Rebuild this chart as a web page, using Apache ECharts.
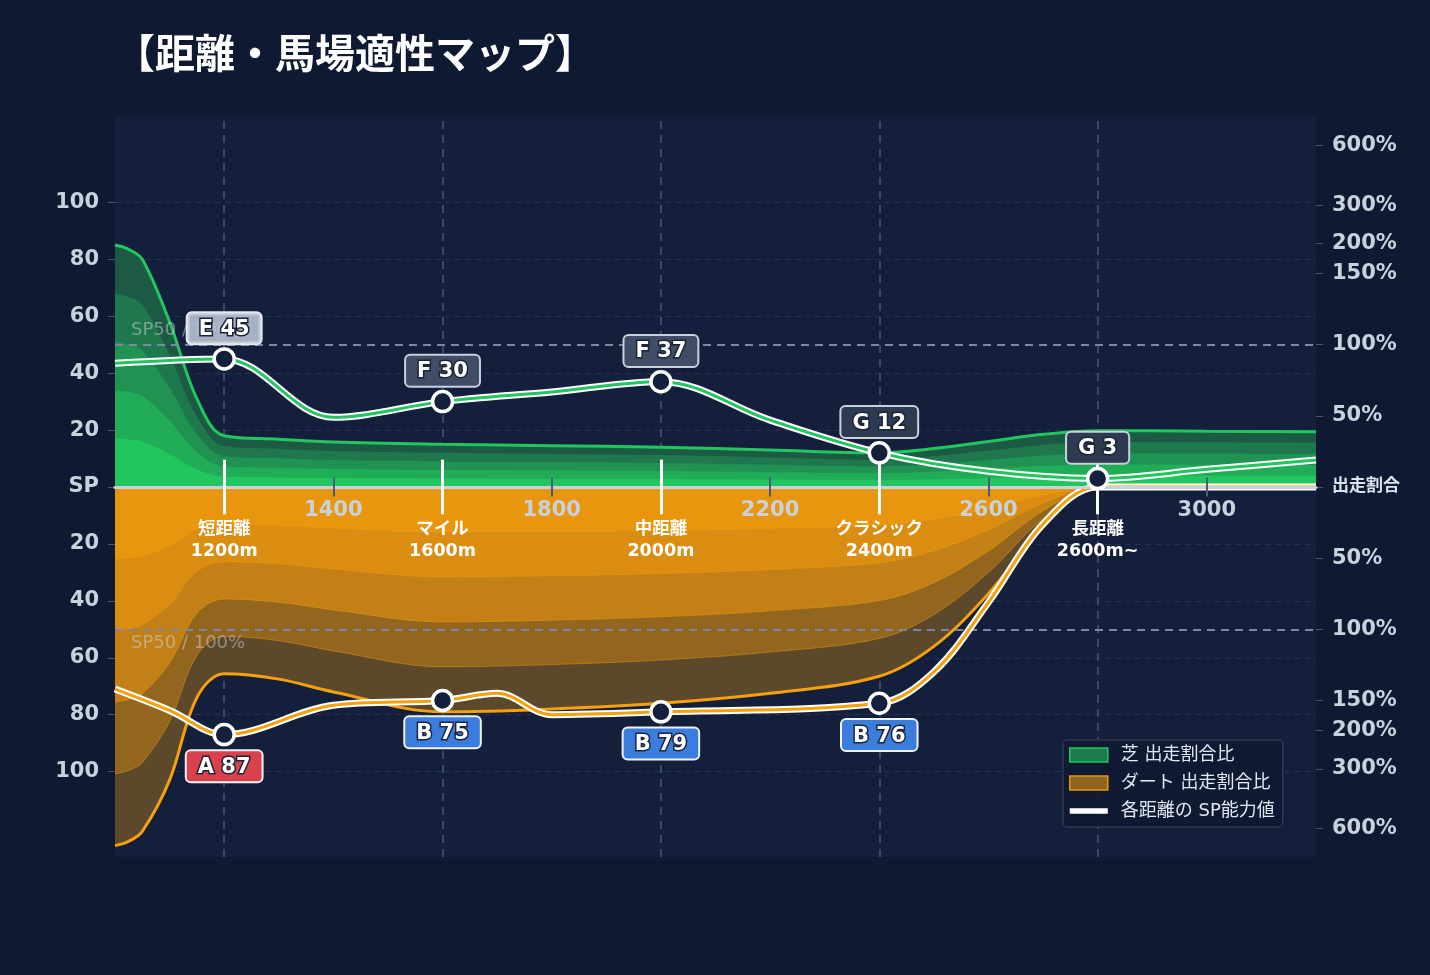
<!DOCTYPE html>
<html>
<head>
<meta charset="utf-8">
<title>距離・馬場適性マップ</title>
<script src="https://cdn.jsdelivr.net/npm/echarts@6/dist/echarts.min.js"></script>
<style>
html, body { margin: 0; padding: 0; background: #0f1a32; }
#main { width: 1430px; height: 975px; }
</style>
</head>
<body>
<div id="main"></div>
<script>
// 出走割合比（上：芝 / 下：ダート）
var shareDist = [1000, 1025, 1050, 1100, 1150, 1200, 1300, 1400, 1600, 1800, 2000, 2200, 2400, 2500, 2600, 2700, 2800, 3000, 3200];
var turfShare = [85, 83.5, 80, 58, 31, 18, 16.8, 15.8, 15, 14.5, 14, 13, 12, 13.5, 16, 18.5, 19.8, 19.6, 19.4];
var dirtShare = [126, 124.5, 121, 103, 74, 65.6, 67.5, 72, 79, 78, 76, 72.5, 66.5, 56, 37.5, 14, 0, 0, 0];
// SP能力値
var turfSpDist = [1000, 1200, 1400, 1600, 1800, 2000, 2200, 2400, 2600, 2800, 3000, 3200];
var turfSp = [43.5, 45, 24.5, 30, 33.4, 37, 23.5, 12, 5.5, 3, 6.2, 9.5];
var dirtSpDist = [1000, 1100, 1200, 1400, 1600, 1700, 1800, 2000, 2400, 2500, 2600, 2700, 2800, 3000, 3200];
var dirtSp = [71, 78.5, 87, 76.7, 75, 72.5, 80, 79, 76, 65, 40.5, 13, 0, 0, 0];

// 距離区分
var catDistances = [1200, 1600, 2000, 2400, 2800];
var catNames = ['短距離', 'マイル', '中距離', 'クラシック', '長距離'];
var catSubs = ['1200m', '1600m', '2000m', '2400m', '2600m~'];
var tickDistances = [1400, 1800, 2200, 2600, 3000];
var turfGrades = ['E', 'F', 'F', 'G', 'G'];
var dirtGrades = ['A', 'B', 'B', 'B'];

// 軸ラベル
var spTicks = [20, 40, 60, 80, 100];
var pctLabels = ['50%', '100%', '150%', '200%', '300%', '600%'];
var pctPos = [25, 50, 75, 85.5, 99, 120];

var FONT = 'DejaVu Sans, Noto Sans CJK JP, sans-serif';
var SMOOTH = 0.35;
var greenColors = ['#1c5a44', '#1e774d', '#209353', '#21ad58', '#22c55e'];
var orangeColors = ['#5c482b', '#93661f', '#c28016', '#da8d10', '#e8960e'];
var gradeBg = { A: '#d9414b', B: '#3b7ddd', E: 'rgba(188,198,214,0.88)', F: '#414d66', G: '#2e3a51' };
var gradeBorder = { A: '#eef2f7', B: '#eef2f7', E: '#e6ebf2', F: '#c9d1dd', G: '#c9d1dd' };

var myChart = echarts.init(document.getElementById('main'));

function layerData(share, k, sign) {
	return shareDist.map(function (d, i) { return [d, sign * share[i] * k / 5]; });
}
function lineData(xs, vals, sign) {
	return xs.map(function (d, i) { return [d, sign * vals[i]]; });
}
function pointData(xs, vals, grades, sign) {
	return grades.map(function (g, i) {
		var d = catDistances[i];
		var v = vals[xs.indexOf(d)];
		return {
			value: [d, sign * v],
			label: { formatter: g + ' ' + v, backgroundColor: gradeBg[g], borderColor: gradeBorder[g] }
		};
	});
}

var leftVals = [0];
spTicks.forEach(function (v) { leftVals.push(v, -v); });
var rightVals = [0];
pctPos.forEach(function (v) { rightVals.push(v, -v); });
var xLabelVals = catDistances.concat(tickDistances);

// 中心軸の目盛り
var tickLines = catDistances.map(function (d) {
	return [{ coord: [d, 9.6] }, { coord: [d, -9.6] }];
}).concat(tickDistances.map(function (d) {
	return [{ coord: [d, 3.3], lineStyle: { color: '#505b75', width: 2 } }, { coord: [d, -3.3] }];
}));

var series = [];
// 芝 出走割合比（外側から）
for (var j = 0; j < 5; j++) {
	var s = {
		name: j === 0 ? '芝 出走割合比' : 'turf' + j,
		type: 'line', smooth: SMOOTH, symbol: 'none', z: 2,
		data: layerData(turfShare, 5 - j, 1),
		lineStyle: j === 0 ? { color: '#22c55e', width: 3 } : { width: 0 },
		areaStyle: { color: greenColors[j], opacity: 1 },
		itemStyle: { color: greenColors[j] }
	};
	if (j === 0) {
		s.markLine = {
			silent: true, symbol: 'none', z: 1, animation: false,
			label: { show: false },
			lineStyle: { color: '#3a4966', width: 2, type: [8, 6] },
			data: catDistances.map(function (d) { return { xAxis: d }; })
		};
	}
	series.push(s);
}
// ダート 出走割合比（外側から）
for (var j2 = 0; j2 < 5; j2++) {
	var s2 = {
		name: j2 === 0 ? 'ダート 出走割合比' : 'dirt' + j2,
		type: 'line', smooth: SMOOTH, symbol: 'none', z: 2,
		data: layerData(dirtShare, 5 - j2, -1),
		lineStyle: j2 === 0 ? { color: '#f5a00c', width: 3 } : { color: 'rgba(245,160,12,0.45)', width: 1 },
		areaStyle: { color: orangeColors[j2], opacity: 1 },
		itemStyle: { color: orangeColors[j2] }
	};
	if (j2 === 0) {
		s2.markLine = {
			silent: true, symbol: 'none', z: 4, animation: false,
			lineStyle: { color: '#7d88a0', width: 2, type: [8, 6] },
			label: { show: true, color: 'rgba(205,213,226,0.5)', fontSize: 18, fontFamily: FONT, formatter: 'SP50 / 100%', distance: [16, 5] },
			data: [
				{ yAxis: 50, label: { position: 'insideStartTop' } },
				{ yAxis: -50, label: { position: 'insideStartBottom' } }
			]
		};
	}
	series.push(s2);
}
// SP能力値ライン（白フチ + 芯）
series.push({
	name: '各距離の SP能力値', type: 'line', smooth: SMOOTH, symbol: 'none', z: 6,
	data: lineData(turfSpDist, turfSp, 1),
	lineStyle: { color: '#ffffff', width: 7 },
	itemStyle: { color: '#ffffff' },
	markLine: {
		silent: true, symbol: 'none', z: 11, animation: false,
		label: { show: false },
		lineStyle: { color: '#ffffff', width: 3, type: 'solid' },
		data: tickLines
	}
});
series.push({
	name: 'turfSpCore', type: 'line', smooth: SMOOTH, symbol: 'none', z: 6,
	data: lineData(turfSpDist, turfSp, 1),
	lineStyle: { color: '#22c55e', width: 3 }
});
series.push({
	name: 'dirtSpOuter', type: 'line', smooth: SMOOTH, symbol: 'none', z: 6,
	data: lineData(dirtSpDist, dirtSp, -1),
	lineStyle: { color: '#ffffff', width: 7 }
});
series.push({
	name: 'dirtSpCore', type: 'line', smooth: SMOOTH, symbol: 'none', z: 6,
	data: lineData(dirtSpDist, dirtSp, -1),
	lineStyle: { color: '#f5a00c', width: 3 }
});

var pointStyle = {
	type: 'scatter', symbol: 'circle', symbolSize: 20, z: 12,
	itemStyle: { color: '#131f3b', borderColor: '#ffffff', borderWidth: 3.5, opacity: 1 }
};
var labelBase = {
	show: true, color: '#ffffff', fontSize: 21, fontWeight: 'bold', fontFamily: FONT,
	textBorderColor: '#1b2336', textBorderWidth: 3,
	padding: [4, 11, 2, 11], borderRadius: 4, borderWidth: 2, lineHeight: 24
};
series.push(Object.assign({}, pointStyle, {
	name: 'turfPts',
	data: pointData(turfSpDist, turfSp, turfGrades, 1),
	label: Object.assign({}, labelBase, { position: 'top', distance: 4 })
}));
series.push(Object.assign({}, pointStyle, {
	name: 'dirtPts',
	data: pointData(dirtSpDist, dirtSp, dirtGrades, -1),
	label: Object.assign({}, labelBase, { position: 'bottom', distance: 5 })
}));

var option = {
	backgroundColor: '#0f1a32',
	animation: false,
	title: {
		text: '【距離・馬場適性マップ】',
		left: 110, top: 28,
		textStyle: { color: '#ffffff', fontSize: 40, fontWeight: 'bold', fontFamily: 'Noto Sans CJK JP' }
	},
	legend: {
		left: 1063, top: 740, orient: 'vertical',
		backgroundColor: 'rgba(16,26,50,0.9)', borderColor: '#2c3852', borderWidth: 1.5, borderRadius: 4,
		padding: [6, 8, 7, 6], itemWidth: 38, itemHeight: 14, itemGap: 10,
		textStyle: { color: '#e2e8f0', fontSize: 18, fontFamily: FONT, lineHeight: 18, padding: [0, 0, 0, 8] },
		data: [
			{ name: '芝 出走割合比', icon: 'rect', itemStyle: { color: '#1f7a4e', borderColor: '#22c55e', borderWidth: 1.5 } },
			{ name: 'ダート 出走割合比', icon: 'rect', itemStyle: { color: '#8f6420', borderColor: '#e8960e', borderWidth: 1.5 } },
			{ name: '各距離の SP能力値', icon: 'path://M0,0H40V6H0Z', itemStyle: { color: '#ffffff' } }
		]
	},
	grid: {
		left: 115, right: 114, top: 117, bottom: 118,
		show: true, backgroundColor: '#131f3b', borderWidth: 0
	},
	xAxis: {
		type: 'value', min: 1000, max: 3200, z: 10,
		position: 'bottom', offset: -370,
		axisLine: { onZero: false, lineStyle: { color: '#c9d1dc', width: 3 } },
		axisTick: { show: false },
		splitLine: { show: false },
		axisLabel: {
			customValues: xLabelVals, margin: 12,
			formatter: function (v) {
				var i = catDistances.indexOf(v);
				if (i >= 0) return '{gap| }\n{cat|' + catNames[i] + '}\n{cat|' + catSubs[i] + '}';
				return '{num|' + v + '}';
			},
			rich: {
				gap: { fontSize: 1, lineHeight: 19 },
				cat: { color: '#ffffff', fontSize: 17.5, fontWeight: 'bold', lineHeight: 22, fontFamily: FONT },
				num: { color: '#c9d1dd', fontSize: 21, fontWeight: 'bold', lineHeight: 24, fontFamily: FONT }
			}
		}
	},
	yAxis: [
		{
			type: 'value', min: -130, max: 130, position: 'left',
			axisLine: { show: false },
			axisTick: { show: true, length: 7, customValues: leftVals, lineStyle: { color: '#4a5670' } },
			splitLine: { show: true, lineStyle: { color: '#24334f', width: 1, type: [6, 4] } },
			axisLabel: {
				customValues: leftVals, margin: 16,
				color: '#c9d1dd', fontSize: 21, fontWeight: 'bold', fontFamily: FONT,
				formatter: function (v) { return v === 0 ? 'SP' : String(Math.abs(v)); }
			}
		},
		{
			type: 'value', min: -130, max: 130, position: 'right',
			axisLine: { show: false },
			axisTick: { show: true, length: 7, customValues: rightVals, lineStyle: { color: '#4a5670' } },
			splitLine: { show: false },
			axisLabel: {
				customValues: rightVals, margin: 16,
				color: '#c9d1dd', fontSize: 21, fontWeight: 'bold', fontFamily: FONT,
				formatter: function (v) {
					if (v === 0) return '{s|出走割合}';
					return pctLabels[pctPos.indexOf(Math.abs(v))];
				},
				rich: { s: { color: '#dde3ec', fontSize: 17, fontWeight: 'bold', fontFamily: FONT } }
			}
		}
	],
	series: series
};

myChart.setOption(option);
</script>
</body>
</html>
